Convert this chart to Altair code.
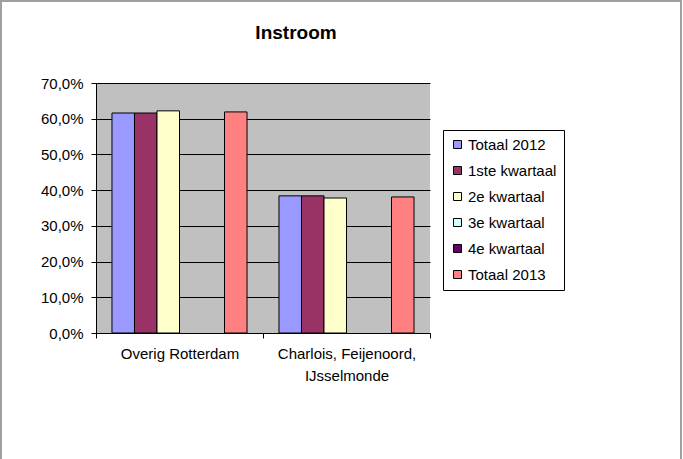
import altair as alt
import pandas as pd

# Regions (x categories); "\n" marks the line break in the axis label
categories = ["Overig Rotterdam", "Charlois, Feijenoord,\nIJsselmonde"]

# Series shown side by side within each region
series = ["Totaal 2012", "1ste kwartaal", "2e kwartaal", "3e kwartaal", "4e kwartaal", "Totaal 2013"]
colors = ["#9999FF", "#993366", "#FFFFCC", "#CCFFFF", "#660066", "#FF8080"]

# Share of intake (%) per series, in category order; None = no data yet
totaal_2012 = [61.6, 38.4]
kwartaal_1 = [61.6, 38.4]
kwartaal_2 = [62.2, 37.8]
kwartaal_3 = [None, None]
kwartaal_4 = [None, None]
totaal_2013 = [61.9, 38.1]

y_ticks = [0, 10, 20, 30, 40, 50, 60, 70]
chart_title = "Instroom"

values = [totaal_2012, kwartaal_1, kwartaal_2, kwartaal_3, kwartaal_4, totaal_2013]
rows = []
for name, vals in zip(series, values):
    for cat, v in zip(categories, vals):
        if v is not None:
            rows.append({"regio": cat, "reeks": name, "waarde": v})
df = pd.DataFrame(rows)

FONT = "Liberation Sans"
FS = 15

bars = alt.Chart(df).mark_bar(stroke="black", strokeWidth=1).encode(
    x=alt.X(
        "regio:N",
        sort=categories,
        scale=alt.Scale(domain=categories, paddingInner=0, paddingOuter=0),
        axis=alt.Axis(
            title=None,
            labelAngle=0,
            labelExpr="split(datum.label, '\\n')",
            labelFontSize=FS,
            labelLineHeight=22,
            labelPadding=8,
            labelColor="black",
            labelFont=FONT,
            tickBand="extent",
            tickSize=5,
            tickColor="black",
            domainColor="black",
            grid=False,
        ),
    ),
    xOffset=alt.XOffset(
        "reeks:N",
        sort=series,
        scale=alt.Scale(domain=series, paddingInner=0, paddingOuter=0.71),
    ),
    y=alt.Y(
        "waarde:Q",
        scale=alt.Scale(domain=[0, 70], nice=False),
        axis=alt.Axis(
            title=None,
            values=y_ticks,
            labelExpr="replace(format(datum.value, '.1f'), '.', ',') + '%'",
            labelFontSize=FS,
            labelColor="black",
            labelFont=FONT,
            labelPadding=8,
            tickSize=5,
            tickColor="black",
            domainColor="black",
            grid=True,
            gridColor="black",
            gridWidth=1,
        ),
    ),
    color=alt.Color(
        "reeks:N",
        sort=series,
        scale=alt.Scale(domain=series, range=colors),
        legend=alt.Legend(
            title=None,
            orient="none",
            legendX=347,
            legendY=47,
            symbolType="square",
            symbolSize=64,
            symbolStrokeColor="black",
            symbolStrokeWidth=1,
            labelFontSize=FS,
            labelFont=FONT,
            labelColor="black",
            rowPadding=10,
            padding=7,
            strokeColor="black",
            fillColor="white",
            labelOffset=3,
        ),
    ),
)

# Chart title, centred over the chart area
title = alt.Chart(alt.Data(values=[{}])).mark_text(
    font=FONT, fontSize=19, fontWeight="bold", color="black",
    align="center", baseline="middle",
).encode(x=alt.value(200), y=alt.value(-50), text=alt.value(chart_title))

# Outer grey frame around the whole chart
frame = alt.Chart(alt.Data(values=[{}])).mark_rect(
    fillOpacity=0, stroke="#A0A0A0", strokeWidth=2
).encode(
    x=alt.value(-95), x2=alt.value(585), y=alt.value(-82), y2=alt.value(390)
)

chart = alt.layer(frame, title, bars).properties(
    width=334,
    height=250,
    autosize=alt.AutoSizeParams(type="none"),
    padding={"left": 96, "top": 83, "right": 253, "bottom": 126},
    background="white",
).configure_view(fill="#C0C0C0", stroke=None)

chart.save("out.html", embed_options={"renderer": "svg", "actions": False})
